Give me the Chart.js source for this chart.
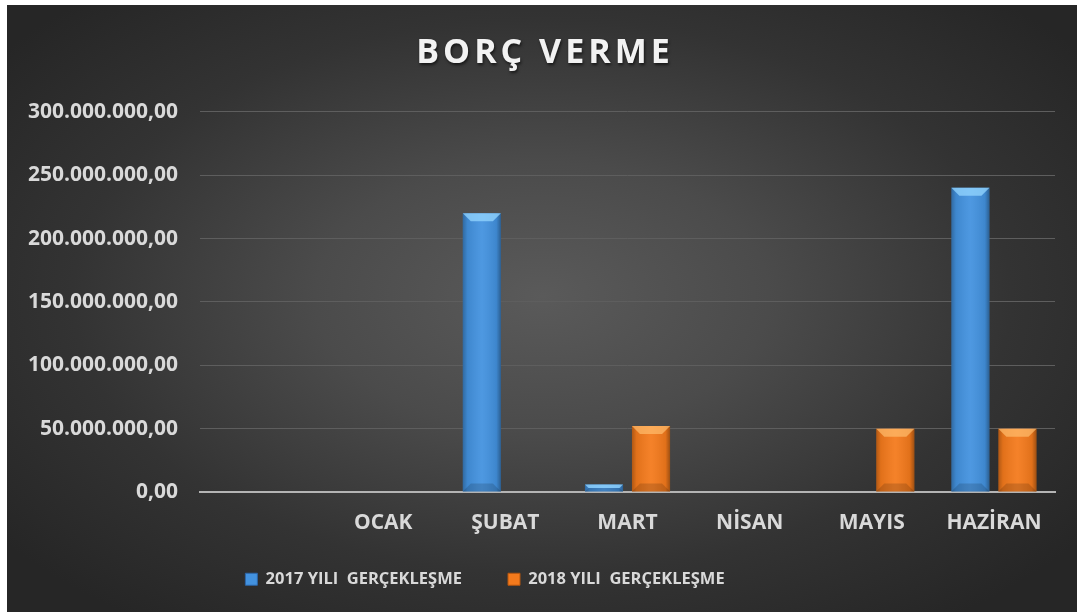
<!DOCTYPE html>
<html><head><meta charset="utf-8">
<script src="https://cdn.jsdelivr.net/npm/chart.js@4"></script>
<style>
html,body{margin:0;padding:0;background:#fff;width:1077px;height:612px;overflow:hidden;}
#wrap{position:absolute;left:7px;top:5px;width:1070px;height:607px;
background:radial-gradient(ellipse farthest-corner at 50% 48%, #5a5a5a 0%, #4b4b4b 30%, #333 62%, #262626 90%);}
</style></head><body><div id="wrap"><canvas id="c"></canvas></div>
<script>
const categories = ['', 'OCAK', 'ŞUBAT', 'MART', 'NİSAN', 'MAYIS', 'HAZİRAN'];
const series2017 = [0, 0, 220000000, 6000000, 0, 0, 240000000];
const series2018 = [0, 0, 0, 52000000, 0, 50000000, 50000000];
const seriesNames = ['2017 YILI  GERÇEKLEŞME', '2018 YILI  GERÇEKLEŞME'];
const seriesColors = ['#4392df', '#f47a1c'];
const chartTitle = 'BORÇ VERME';
const yMin = 0, yMax = 300000000, yStep = 50000000;

function trFormat(v){
  const s = Math.round(v).toString().replace(/\B(?=(\d{3})+(?!\d))/g, '.');
  return s + ',00';
}

const FONT = '"Open Sans", Lato, sans-serif';

const bevelPlugin = {
  id: 'bevel',
  beforeUpdate(chart){
    const lg = chart.legend;
    if (lg && !lg._patched){
      const of = lg.fit;
      lg.fit = function(){ of.call(this); this.height = 60; };
      const od = lg.draw;
      lg.draw = function(){
        const ctx = chart.ctx;
        const t = this.top;
        this.top = t - 15;
        ctx.save(); ctx.translate(-46, 0); od.call(this); ctx.restore();
        this.top = t;
      };
      lg._patched = true;
    }
  },
  beforeDraw(chart){
    const tb = chart.titleBlock;
    if (tb && !tb._patched){
      const orig = tb.draw;
      tb.draw = function(){
        const ctx = chart.ctx;
        ctx.save();
        try { ctx.letterSpacing = '4px'; } catch(e){}
        ctx.translate(14, 0);
        ctx.shadowColor = 'rgba(0,0,0,0.6)';
        ctx.shadowOffsetX = 1; ctx.shadowOffsetY = 2; ctx.shadowBlur = 3;
        orig.call(this);
        ctx.restore();
      };
      tb._patched = true;
    }
  },
  afterDatasetsDraw(chart){
    const ctx = chart.ctx;
    chart.data.datasets.forEach((ds, di) => {
      const meta = chart.getDatasetMeta(di);
      meta.data.forEach(el => {
        const h = el.base - el.y;
        if (h < 1) return;
        const l = el.x - el.width/2, r = el.x + el.width/2, t = el.y, b = el.base;
        ctx.save();
        const g = ctx.createLinearGradient(l, 0, r, 0);
        g.addColorStop(0, 'rgba(0,0,0,0.28)');
        g.addColorStop(0.12, 'rgba(0,0,0,0.08)');
        g.addColorStop(0.5, 'rgba(255,255,255,0.06)');
        g.addColorStop(0.88, 'rgba(0,0,0,0.08)');
        g.addColorStop(1, 'rgba(0,0,0,0.35)');
        ctx.fillStyle = g;
        ctx.fillRect(l, t, r - l, h);
        const bv = Math.min(8, h/2);
        ctx.beginPath();
        ctx.moveTo(l, t); ctx.lineTo(r, t); ctx.lineTo(r - bv, t + bv); ctx.lineTo(l + bv, t + bv); ctx.closePath();
        ctx.fillStyle = di === 0 ? 'rgba(150,215,255,0.75)' : 'rgba(255,190,110,0.7)';
        ctx.fill();
        ctx.beginPath();
        ctx.moveTo(l, b); ctx.lineTo(r, b); ctx.lineTo(r - bv, b - bv); ctx.lineTo(l + bv, b - bv); ctx.closePath();
        ctx.fillStyle = 'rgba(0,0,0,0.15)';
        ctx.fill();
        ctx.restore();
      });
    });
  }
};

new Chart(document.getElementById('c'), {
  type: 'bar',
  data: {
    labels: categories,
    datasets: [
      { label: seriesNames[0], data: series2017, backgroundColor: seriesColors[0], borderWidth: 0 },
      { label: seriesNames[1], data: series2018, backgroundColor: seriesColors[1], borderWidth: 0 }
    ]
  },
  options: {
    responsive: true,
    maintainAspectRatio: false,
    animation: false,
    categoryPercentage: 0.77,
    barPercentage: 0.81,
    layout: { padding: { left: 0, right: 22, top: 0, bottom: 12 } },
    plugins: {
      title: {
        display: true, text: chartTitle, color: '#f2f2f2',
        font: { family: FONT, size: 34, weight: 'bold' },
        padding: { top: 28, bottom: 38 }
      },
      legend: {
        position: 'bottom',
        labels: {
          color: '#d9d9d9', font: { family: FONT, size: 16.5, weight: 'bold' },
          boxWidth: 12, boxHeight: 12, padding: 46,
          generateLabels(chart){
            return chart.data.datasets.map((d, i) => ({
              text: d.label, fillStyle: seriesColors[i], strokeStyle: i === 0 ? '#2d65a8' : '#b5560f',
              lineWidth: 1, fontColor: '#d9d9d9', datasetIndex: i, hidden: false
            }));
          }
        }
      },
      tooltip: { enabled: false }
    },
    scales: {
      x: {
        grid: { display: false, drawTicks: false },
        border: { display: true, color: '#b4b4b4', width: 2 },
        ticks: { color: '#d9d9d9', font: { family: FONT, size: 21, weight: 'bold' }, padding: 18 },
        afterFit(scale){ scale.height = 48; }
      },
      y: {
        min: yMin, max: yMax,
        grid: { color: '#5e5e5e', lineWidth: 1, drawTicks: false },
        border: { display: false },
        ticks: { stepSize: yStep, color: '#d9d9d9', font: { family: FONT, size: 21, weight: 'bold' }, padding: 22,
          callback: v => trFormat(v) },
        afterFit(scale){ scale.width = 193; }
      }
    }
  },
  plugins: [bevelPlugin]
});
</script></body></html>
